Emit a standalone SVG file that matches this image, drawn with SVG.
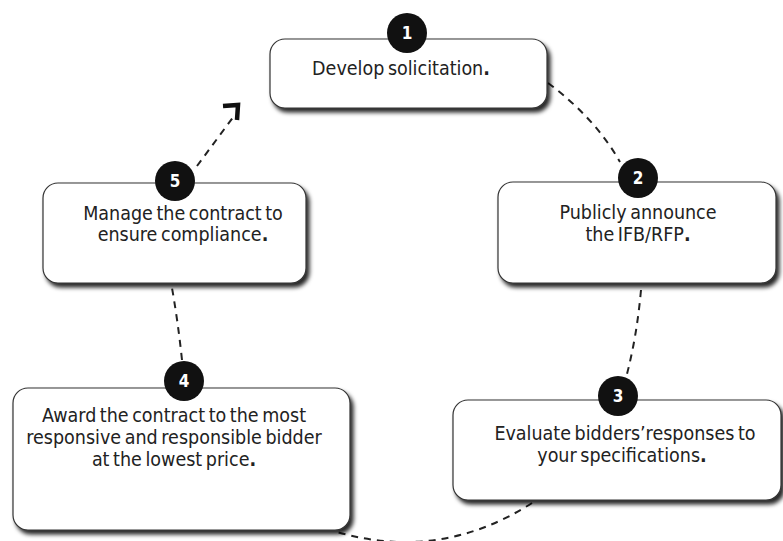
<svg xmlns="http://www.w3.org/2000/svg" width="783" height="541" viewBox="0 0 783 541">
<defs>
<filter id="sh" x="-10%" y="-10%" width="125%" height="135%">
<feDropShadow dx="3" dy="4" stdDeviation="2" flood-color="#000" flood-opacity="0.85"/>
</filter>
<style>
.box{fill:#fff;stroke:#333;stroke-width:1.2;filter:url(#sh)}
.num{fill:#111}
.nt{font-family:"DejaVu Sans Condensed","DejaVu Sans",sans-serif;font-weight:bold;font-size:17px;fill:#fff;text-anchor:middle}
.t{font-family:"DejaVu Sans Condensed","DejaVu Sans",sans-serif;font-size:19.5px;word-spacing:-2px;fill:#222;text-anchor:middle}
.p{font-weight:bold}
.c{fill:none;stroke:#222;stroke-width:2;stroke-dasharray:7,6}
</style>
</defs>
<g id="connectors">
<path class="c" d="M548,83 Q595,118 620,162"/>
<path class="c" d="M641,290 Q637,335 627,374"/>
<path class="c" d="M532,503 Q440,562 337,532"/>
<path class="c" d="M182,360 Q178,322 172,288"/>
<path class="c" d="M197,166 L234,116"/>
<path d="M223,106 L238,105 L237,120" fill="none" stroke="#111" stroke-width="4.5" stroke-linejoin="miter"/>
</g>
<g id="node1">
<rect class="box" x="270" y="39" width="277" height="69" rx="15"/>
<circle class="num" cx="407" cy="33" r="20"/>
<text class="nt" x="407" y="39">1</text>
<text class="t" x="401" y="75">Develop solicitation<tspan class="p">.</tspan></text>
</g>
<g id="node2">
<rect class="box" x="498" y="182" width="278" height="101" rx="15"/>
<circle class="num" cx="638" cy="178" r="20"/>
<text class="nt" x="638" y="184">2</text>
<text class="t" x="638" y="219">Publicly announce</text>
<text class="t" x="638" y="241">the IFB/RFP<tspan class="p">.</tspan></text>
</g>
<g id="node3">
<rect class="box" x="453" y="400" width="328" height="100" rx="15"/>
<circle class="num" cx="618" cy="396" r="20"/>
<text class="nt" x="618" y="402">3</text>
<text class="t" x="625" y="440">Evaluate bidders’responses to</text>
<text class="t" x="622" y="462">your specifications<tspan class="p">.</tspan></text>
</g>
<g id="node4">
<rect class="box" x="13" y="388" width="337" height="142" rx="15"/>
<circle class="num" cx="184" cy="381" r="20"/>
<text class="nt" x="184" y="387">4</text>
<text class="t" x="174" y="422">Award the contract to the most</text>
<text class="t" x="174" y="444">responsive and responsible bidder</text>
<text class="t" x="174" y="466">at the lowest price<tspan class="p">.</tspan></text>
</g>
<g id="node5">
<rect class="box" x="43" y="183" width="263" height="100" rx="15"/>
<circle class="num" cx="175" cy="181" r="20"/>
<text class="nt" x="175" y="187">5</text>
<text class="t" x="183" y="220">Manage the contract to</text>
<text class="t" x="183" y="241">ensure compliance<tspan class="p">.</tspan></text>
</g>
</svg>
